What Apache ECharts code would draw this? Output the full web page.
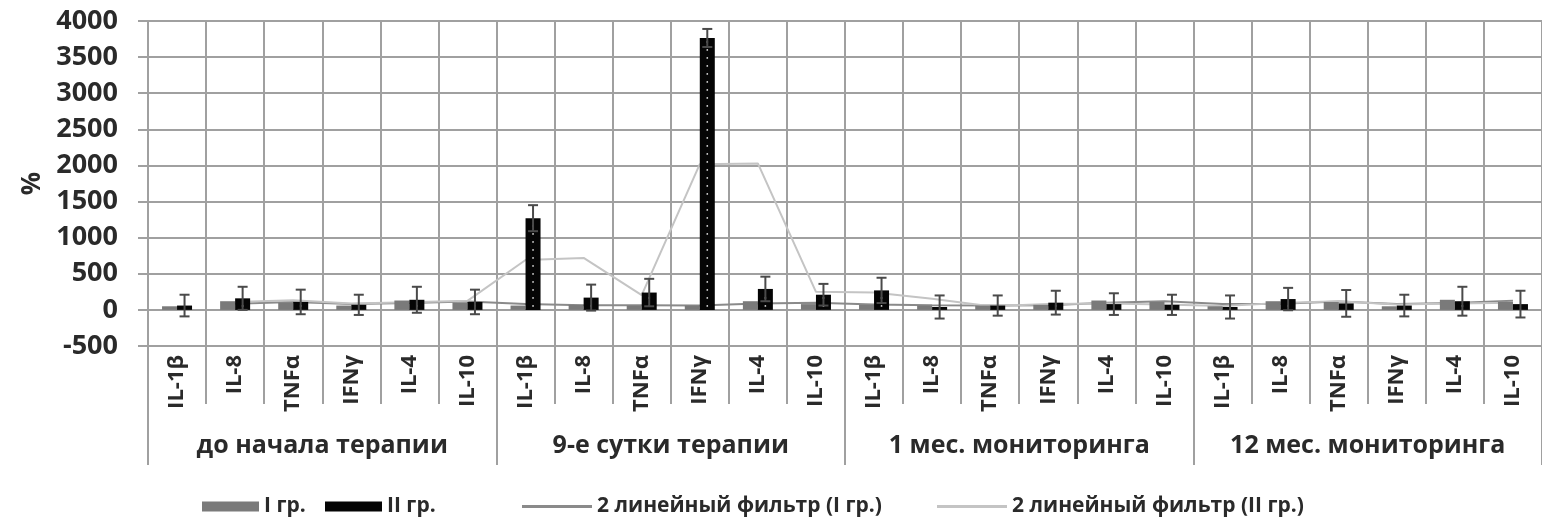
<!DOCTYPE html>
<html>
<head>
<meta charset="utf-8">
<script src="https://cdn.jsdelivr.net/npm/echarts@6/dist/echarts.min.js"></script>
<style>
  html, body { margin: 0; padding: 0; background: #fff; }
  #chart { width: 1542px; height: 524px; }
</style>
</head>
<body>
<div id="chart"></div>
<script>
// Cytokines measured at each stage
const cytokines = ['IL-1β', 'IL-8', 'TNFα', 'IFNγ', 'IL-4', 'IL-10'];
// Observation stages (second level of the category axis)
const periods = ['до начала терапии', '9-е сутки терапии', '1 мес. мониторинга', '12 мес. мониторинга'];
// Flat list of categories: six cytokines per stage
const categories = periods.flatMap(() => cytokines);

// Values, % — group I
const groupI = [50, 120, 100, 60, 130, 100,
                60, 70, 60, 60, 120, 80,
                70, 60, 60, 70, 130, 110,
                50, 120, 110, 50, 140, 110];
// Values, % — group II
const groupII = [60, 160, 110, 70, 140, 110,
                 1270, 170, 240, 3765, 290, 210,
                 270, 40, 60, 100, 80, 70,
                 40, 150, 90, 60, 120, 80];
// Error (±) for group II
const errII = [150, 160, 170, 140, 180, 170,
               180, 180, 190, 125, 170, 150,
               175, 160, 140, 165, 150, 140,
               160, 155, 185, 150, 200, 185];
// Two-point moving-average trend lines
const trendI = ['-', 85, 110, 80, 95, 115,
                80, 65, 65, 60, 90, 100,
                75, 65, 60, 65, 100, 120,
                80, 85, 115, 80, 95, 125];
const trendII = ['-', 110, 135, 90, 105, 125,
                 690, 720, 205, 2018, 2028, 250,
                 240, 155, 50, 80, 90, 75,
                 55, 95, 120, 75, 90, 100];
// Y axis range, %
const yMin = -500, yMax = 4000, yStep = 500;

const GRID = '#a0a0a0';
const TEXT = '#2a2a2a';
const FONT = '"Open Sans", "Noto Sans", sans-serif';
const BAR_W = 15;

const chart = echarts.init(document.getElementById('chart'), null, { renderer: 'canvas' });

// White dots inside the group II bars plus the error whiskers
function renderBarDetail(params, api) {
  const i = api.value(0), v = api.value(1), e = api.value(2);
  const top = api.coord([i, v]);
  const base = api.coord([i, 0]);
  const hi = api.coord([i, v + e]);
  const lo = api.coord([i, v - e]);
  const x = top[0] + BAR_W / 2;
  const children = [];
  for (let y = base[1] - 4; y > top[1] + 3; y -= 8) {
    children.push({ type: 'circle', shape: { cx: x, cy: y, r: 0.9 }, style: { fill: '#d8d8d8' } });
  }
  const stroke = { stroke: '#4a4a4a', lineWidth: 2 };
  children.push({ type: 'line', shape: { x1: x, y1: hi[1], x2: x, y2: lo[1] }, style: stroke });
  children.push({ type: 'line', shape: { x1: x - 5, y1: hi[1], x2: x + 5, y2: hi[1] }, style: stroke });
  children.push({ type: 'line', shape: { x1: x - 5, y1: lo[1], x2: x + 5, y2: lo[1] }, style: stroke });
  return { type: 'group', children };
}

const legendText = { color: TEXT, fontFamily: FONT, fontWeight: 'bold', fontSize: 21 };
function legendAt(name, left, w, h) {
  return {
    data: [{ name, icon: 'rect' }], left, top: 496, padding: 0,
    itemWidth: w, itemHeight: h, textStyle: legendText, selectedMode: false
  };
}

const option = {
  backgroundColor: '#ffffff',
  animation: false,
  grid: { left: 148, top: 21, width: 1395, height: 325, containLabel: false },
  legend: [
    legendAt('I гр.', 202, 57, 10),
    legendAt('II гр.', 325, 57, 10),
    legendAt('2 линейный фильтр (I гр.)', 522, 70, 3),
    legendAt('2 линейный фильтр (II гр.)', 937, 70, 3)
  ],
  xAxis: [
    {
      type: 'category', data: categories, boundaryGap: true,
      axisLine: { show: true, onZero: true, lineStyle: { color: GRID, width: 2 } },
      axisTick: { show: true, interval: 0, length: 94, lineStyle: { color: GRID, width: 2 } },
      axisLabel: { interval: 0, rotate: 90, margin: 9, color: TEXT, fontFamily: FONT, fontWeight: 'bold', fontSize: 22 },
      splitLine: { show: true, interval: 0, lineStyle: { color: GRID, width: 2 } }
    },
    {
      type: 'category', data: periods, position: 'bottom', offset: 57, boundaryGap: true,
      axisLine: { show: false, onZero: false },
      axisTick: { show: true, interval: 0, length: 62, lineStyle: { color: GRID, width: 2 } },
      axisLabel: { interval: 0, margin: 30, color: TEXT, fontFamily: FONT, fontWeight: 'bold', fontSize: 25 },
      splitLine: { show: false }
    }
  ],
  yAxis: {
    type: 'value', min: yMin, max: yMax, interval: yStep,
    name: '%', nameLocation: 'middle', nameRotate: 90, nameGap: 88,
    nameTextStyle: { color: TEXT, fontFamily: FONT, fontWeight: 'bold', fontSize: 26 },
    axisLine: { show: false },
    axisTick: { show: true, length: 10, lineStyle: { color: GRID, width: 2 } },
    axisLabel: {
      margin: 30, color: TEXT, fontFamily: FONT, fontWeight: 'bold', fontSize: 27,
      formatter: (v) => String(v)
    },
    splitLine: { show: true, lineStyle: { color: GRID, width: 2 } }
  },
  series: [
    {
      name: '2 линейный фильтр (I гр.)', type: 'line', data: trendI, z: 1,
      symbol: 'none', lineStyle: { color: '#8a8a8a', width: 2 }, itemStyle: { color: '#8a8a8a' }
    },
    {
      name: '2 линейный фильтр (II гр.)', type: 'line', data: trendII, z: 1,
      symbol: 'none', lineStyle: { color: '#c4c4c4', width: 2 }, itemStyle: { color: '#c4c4c4' }
    },
    {
      name: 'I гр.', type: 'bar', data: groupI, barWidth: BAR_W, barGap: '0%', z: 3,
      itemStyle: { color: '#7a7a7a' }
    },
    {
      name: 'II гр.', type: 'bar', data: groupII, barWidth: BAR_W, barGap: '0%', z: 3,
      itemStyle: { color: '#050505' }
    },
    {
      name: 'II гр. detail', type: 'custom', z: 4, silent: true,
      renderItem: renderBarDetail,
      encode: { x: 0, y: 1 },
      data: groupII.map((v, i) => [i, v, errII[i]])
    }
  ]
};

chart.setOption(option);
</script>
</body>
</html>
